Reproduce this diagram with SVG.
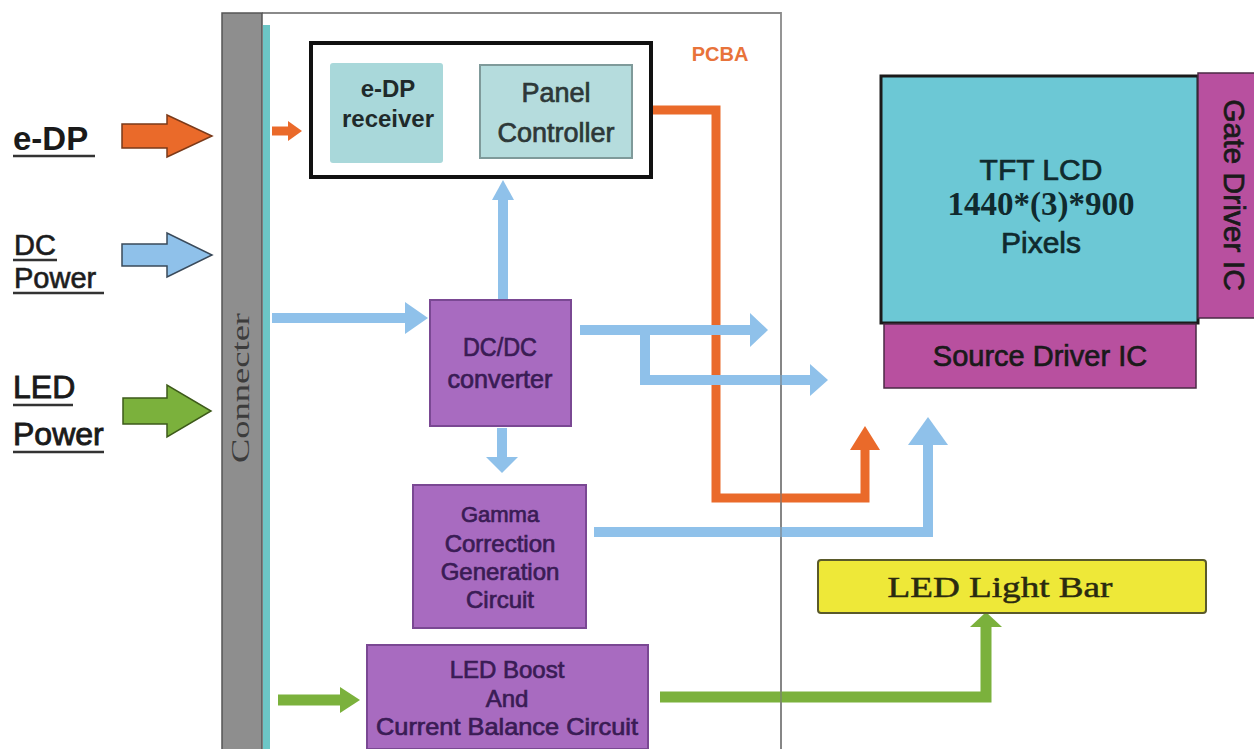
<svg xmlns="http://www.w3.org/2000/svg" width="1254" height="749" viewBox="0 0 1254 749">
<style>
.sans{font-family:"Liberation Sans",Arial,sans-serif}
.serif{font-family:"Liberation Serif","Times New Roman",serif}
.purple{fill:#A86BC0;stroke:#7A4893;stroke-width:2}
.ptext{fill:#3A1C55;stroke:#3A1C55;stroke-width:0.7;font-family:"Liberation Sans",Arial,sans-serif;text-anchor:middle}
.thick{stroke-width:0.7}
.blue{fill:none;stroke:#8FC1EA;stroke-width:10}
.bluehead{fill:#8FC1EA}
.orange{fill:none;stroke:#EA6A2A;stroke-width:9}
.orangehead{fill:#EA6A2A}
.green{fill:none;stroke:#7BB13C;stroke-width:11}
.greenhead{fill:#7BB13C}
.lbl{fill:#1a1a1a;font-family:"Liberation Sans",Arial,sans-serif}
.ul{stroke:#333;stroke-width:2.5}
</style>
<rect width="1254" height="749" fill="#ffffff"/>

<!-- PCBA frame -->
<g id="pcba">
<path d="M262,13 H781 V749" fill="none" stroke="#8a8a8a" stroke-width="1.8"/>
<text x="720" y="61" class="sans" font-size="20" font-weight="bold" fill="#E8733A" text-anchor="middle">PCBA</text>
</g>

<!-- Connector bar -->
<g id="connecter">
<rect x="222" y="13" width="40" height="740" fill="#8E8E8E" stroke="#555" stroke-width="1.5"/>
<rect x="263" y="25" width="7" height="730" fill="#6CC6C6"/>
<text transform="translate(249,388) rotate(-90)" class="serif" font-size="26" fill="#3c3c3c" text-anchor="middle" textLength="150" lengthAdjust="spacingAndGlyphs">Connecter</text>
</g>

<!-- Inputs -->
<g id="in-edp">
<text x="13" y="150" class="lbl" font-size="33" font-weight="bold">e-DP</text>
<line x1="13" y1="156" x2="95" y2="156" class="ul"/>
<polygon points="122,124 167,124 167,115 212,136 167,157 167,148 122,148" fill="#EA6A2A" stroke="#7A3A1A" stroke-width="1.5"/>
</g>
<g id="in-dc">
<text x="14" y="255" class="lbl thick" font-size="29" fill="#2a2a2a" stroke="#2a2a2a">DC</text>
<line x1="13" y1="260" x2="57" y2="260" class="ul"/>
<text x="14" y="288" class="lbl thick" font-size="29" fill="#2a2a2a" stroke="#2a2a2a">Power</text>
<line x1="13" y1="293" x2="104" y2="293" class="ul"/>
<polygon points="122,244 167,244 167,233 212,255 167,277 167,266 122,266" fill="#8FC1EA" stroke="#3a4a5a" stroke-width="1.5"/>
</g>
<g id="in-led">
<text x="13" y="398" class="lbl" font-size="32" stroke="#1a1a1a" stroke-width="0.9">LED</text>
<line x1="13" y1="405" x2="73" y2="405" class="ul"/>
<text x="13" y="445" class="lbl" font-size="32" stroke="#1a1a1a" stroke-width="0.9">Power</text>
<line x1="13" y1="452" x2="104" y2="452" class="ul"/>
<polygon points="123,398 167,398 167,385 211,411 167,437 167,424 123,424" fill="#7BB13C" stroke="#3D5A1A" stroke-width="1.5"/>
</g>

<!-- Connectors -->
<g id="connectors">
<path d="M632,110 H716 V498 H865 V448" class="orange"/>
<polygon points="850,450 865,426 880,450" class="orangehead"/>
<path d="M272,131 H290" class="orange" stroke-width="8"/>
<polygon points="288,121 302,131 288,141" class="orangehead"/>
<polygon points="445,107 462,107 462,100 478,113 462,127 462,120 445,120" fill="#C6E3E6"/>
<path d="M272,318 H408" class="blue" stroke-width="11"/>
<polygon points="405,302 428,318 405,334" class="bluehead"/>
<path d="M503,300 V198" class="blue" stroke-width="8"/>
<polygon points="492,200 503,180 514,200" class="bluehead"/>
<path d="M580,330 H752" class="blue"/>
<polygon points="750,313 768,330 750,347" class="bluehead"/>
<path d="M645,330 V380 H812" class="blue"/>
<polygon points="810,364 828,380 810,396" class="bluehead"/>
<path d="M502,428 V459" class="blue" stroke-width="8"/>
<polygon points="486,457 502,473 518,457" class="bluehead"/>
<path d="M594,532 H928 V443" class="blue"/>
<polygon points="908,445 928,417 948,445" class="bluehead"/>
<path d="M278,700 H342" class="green" stroke-width="13"/>
<polygon points="340,687 360,700 340,713" class="greenhead"/>
<path d="M660,697 H986 V625" class="green"/>
<polygon points="970,627 986,612 1002,627" class="greenhead"/>
<line x1="781" y1="300" x2="781" y2="749" stroke="#7a7a7a" stroke-width="1.5" opacity="0.7"/>
</g>

<!-- Timing controller block -->
<g id="tcon">
<rect x="311" y="43" width="340" height="134" fill="#ffffff" stroke="#111" stroke-width="4"/>
</g>
<g id="edp-receiver">
<rect x="330" y="63" width="113" height="100" rx="3" fill="#A9D8DA"/>
<text x="388" y="97" class="sans" font-size="24" font-weight="bold" fill="#1f2a2a" text-anchor="middle">e-DP</text>
<text x="388" y="127" class="sans" font-size="24" font-weight="bold" fill="#1f2a2a" text-anchor="middle">receiver</text>
</g>
<g id="panel-controller">
<rect x="480" y="65" width="152" height="93" fill="#B5DCDD" stroke="#7f9a9a" stroke-width="2"/>
<text x="556" y="102" class="sans thick" font-size="27" fill="#2d3838" stroke="#2d3838" text-anchor="middle">Panel</text>
<text x="556" y="142" class="sans thick" font-size="27" fill="#2d3838" stroke="#2d3838" text-anchor="middle">Controller</text>
</g>

<g id="dcdc">
<rect x="430" y="300" width="141" height="126" class="purple"/>
<text x="500" y="356" class="ptext" font-size="26" textLength="74" lengthAdjust="spacingAndGlyphs">DC/DC</text>
<text x="500" y="388" class="ptext" font-size="26" textLength="105" lengthAdjust="spacingAndGlyphs">converter</text>
</g>

<g id="gamma">
<rect x="413" y="485" width="173" height="143" class="purple"/>
<text x="500" y="522" class="ptext" font-size="22">Gamma</text>
<text x="500" y="552" class="ptext" font-size="24">Correction</text>
<text x="500" y="580" class="ptext" font-size="24">Generation</text>
<text x="500" y="608" class="ptext" font-size="24">Circuit</text>
</g>

<g id="led-boost">
<rect x="367" y="645" width="281" height="104" class="purple"/>
<text x="507" y="678" class="ptext" font-size="24">LED Boost</text>
<text x="507" y="707" class="ptext" font-size="24">And</text>
<text x="507" y="735" class="ptext" font-size="24" textLength="262" lengthAdjust="spacingAndGlyphs">Current Balance Circuit</text>
</g>

<g id="tft-lcd">
<rect x="881" y="76" width="317" height="247" fill="#6CC8D5" stroke="#1a1a1a" stroke-width="3"/>
<text x="1041" y="180" class="sans thick" font-size="30" fill="#102a2e" stroke="#102a2e" text-anchor="middle">TFT LCD</text>
<text x="1041" y="215" class="serif" font-size="33" font-weight="bold" fill="#102a2e" text-anchor="middle">1440*(3)*900</text>
<text x="1041" y="253" class="sans thick" font-size="30" fill="#102a2e" stroke="#102a2e" text-anchor="middle">Pixels</text>
</g>

<g id="gate-driver">
<rect x="1198" y="73" width="58" height="245" fill="#B8509F" stroke="#4a2a44" stroke-width="1.5"/>
<text transform="translate(1234,195) rotate(90)" class="sans thick" font-size="30" fill="#1a1a1a" stroke="#1a1a1a" text-anchor="middle" dominant-baseline="central">Gate Driver IC</text>
</g>

<g id="source-driver">
<rect x="884" y="324" width="312" height="64" fill="#B8509F" stroke="#4a2a44" stroke-width="1.5"/>
<text x="1040" y="366" class="sans thick" font-size="29" fill="#1a1a1a" stroke="#1a1a1a" text-anchor="middle">Source Driver IC</text>
</g>

<g id="led-light-bar">
<rect x="818" y="560" width="388" height="53" rx="3" fill="#EEE838" stroke="#5A5A2A" stroke-width="2"/>
<text x="1000" y="597" class="serif" font-size="29" fill="#2a2a10" stroke="#2a2a10" stroke-width="0.5" text-anchor="middle" textLength="225" lengthAdjust="spacingAndGlyphs">LED Light Bar</text>
</g>
</svg>
